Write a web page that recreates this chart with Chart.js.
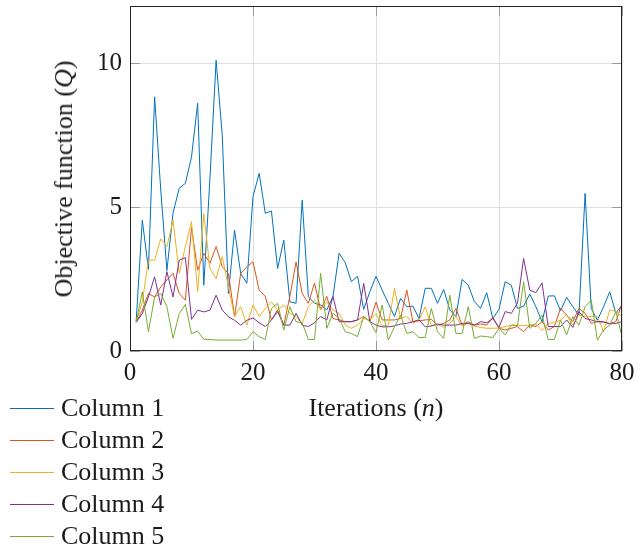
<!DOCTYPE html>
<html>
<head>
<meta charset="utf-8">
<script src="https://cdn.jsdelivr.net/npm/chart.js@4.4.1/dist/chart.umd.min.js"></script>
<style>
    body { margin: 0; background: #fff; }
    #wrap { position: relative; width: 637px; height: 554px; font-family: "Liberation Serif", "DejaVu Serif", serif; color: #1a1a1a; }
    #chart { position: absolute; left: 0; top: 0; }
    .axis-title { position: absolute; font-size: 26px; white-space: nowrap; line-height: 1; }
    #xTitle { left: 376px; top: 408px; transform: translate(-50%, -50%); }
    #yTitle { left: 64px; top: 179px; transform: translate(-50%, -50%) rotate(-90deg); }
    #legend { position: absolute; left: 10px; top: 392px; }
    .legend-row { display: flex; align-items: center; height: 32.1px; font-size: 26px; white-space: nowrap; }
    .legend-line { width: 44px; height: 0; border-top: 1px solid; margin-right: 7px; }
</style>
</head>
<body>
<div id="wrap">
    <canvas id="chart" width="637" height="554"></canvas>
    <div class="axis-title" id="xTitle">Iterations (<i>n</i>)</div>
    <div class="axis-title" id="yTitle">Objective function (<i>Q</i>)</div>
    <div id="legend"></div>
</div>
<script>
// iteration numbers (x)
const iterations = [
    1, 2, 3, 4, 5, 6, 7, 8, 9, 10, 11, 12, 13, 14, 15, 16, 17, 18, 19, 20,
    21, 22, 23, 24, 25, 26, 27, 28, 29, 30, 31, 32, 33, 34, 35, 36, 37, 38, 39, 40,
    41, 42, 43, 44, 45, 46, 47, 48, 49, 50, 51, 52, 53, 54, 55, 56, 57, 58, 59, 60,
    61, 62, 63, 64, 65, 66, 67, 68, 69, 70, 71, 72, 73, 74, 75, 76, 77, 78, 79, 80
];

// objective values per column
const column1 = [
    1.02, 4.55, 2.84, 8.84, 5.6, 2.8, 4.8, 5.66, 5.83, 6.75,
    8.62, 2.29, 6.0, 10.11, 7.5, 2.0, 4.2, 2.7, 2.36, 5.37,
    6.18, 4.79, 4.87, 2.87, 3.86, 1.71, 1.66, 5.25, 1.89, 1.66,
    1.6, 1.43, 1.89, 3.4, 3.07, 2.41, 2.6, 1.45, 2.06, 2.6,
    2.12, 1.66, 1.2, 1.83, 1.54, 1.56, 1.13, 2.18, 2.18, 1.66,
    2.14, 1.43, 1.2, 2.49, 2.29, 1.72, 1.48, 2.03, 1.13, 1.45,
    2.41, 2.29, 1.48, 1.56, 1.98, 1.54, 1.02, 1.91, 1.92, 1.4,
    1.87, 1.54, 1.25, 5.48, 1.48, 1.07, 1.54, 2.06, 1.31, 1.6
];
const column2 = [
    1.0, 1.42, 2.0, 1.88, 2.23, 2.47, 2.7, 2.0, 1.77, 4.3,
    2.81, 3.4, 3.05, 3.63, 2.93, 2.7, 1.19, 2.7, 2.93, 3.1,
    2.12, 1.9, 1.08, 1.43, 0.9, 1.9, 3.1, 2.0, 1.66, 2.36,
    1.43, 1.9, 1.13, 1.08, 1.02, 1.02, 1.08, 1.2, 1.02, 1.7,
    1.08, 1.08, 1.08, 1.13, 2.12, 1.02, 1.05, 1.08, 1.1, 0.9,
    0.96, 1.08, 1.48, 0.9, 1.02, 0.9, 0.94, 0.9, 1.17, 0.79,
    0.73, 0.79, 0.85, 0.67, 0.9, 0.85, 1.02, 0.73, 0.85, 1.48,
    1.25, 1.02, 1.48, 1.31, 0.96, 1.02, 1.0, 0.96, 1.02, 1.66
];
const column3 = [
    1.02, 1.7, 3.16, 3.16, 3.9, 3.63, 4.55, 2.7, 3.63, 4.5,
    2.07, 4.78, 2.87, 2.52, 3.28, 2.23, 1.19, 1.54, 0.9, 1.6,
    1.2, 1.48, 1.71, 1.43, 1.6, 1.31, 1.2, 0.96, 1.54, 1.78,
    1.43, 1.71, 1.43, 1.31, 0.9, 0.79, 0.9, 1.13, 1.08, 1.3,
    0.87, 0.9, 2.18, 1.13, 1.2, 0.96, 1.08, 1.54, 0.87, 0.93,
    0.82, 0.96, 1.2, 0.87, 0.96, 0.87, 0.82, 0.79, 0.79, 0.8,
    0.85, 0.9, 0.9, 0.88, 0.9, 0.94, 0.71, 0.96, 0.98, 1.08,
    1.25, 0.9, 1.25, 1.21, 1.2, 1.2, 0.67, 1.43, 1.37, 1.2
];
const column4 = [
    1.0, 1.3, 1.88, 2.58, 1.6, 2.76, 1.88, 3.16, 3.25, 1.1,
    1.42, 1.36, 1.42, 1.94, 1.42, 1.19, 1.07, 0.9, 1.07, 1.15,
    0.98, 0.85, 1.08, 1.37, 0.9, 0.9, 1.31, 0.9, 0.85, 0.98,
    1.2, 1.08, 1.9, 1.02, 1.02, 1.02, 1.08, 2.35, 1.02, 0.9,
    0.84, 0.84, 0.87, 0.94, 0.96, 1.02, 1.08, 0.84, 0.87, 0.94,
    0.9, 0.9, 0.9, 0.96, 0.96, 0.9, 1.02, 0.98, 1.13, 0.82,
    1.37, 1.31, 1.66, 3.22, 2.12, 2.03, 2.37, 0.85, 0.85, 0.85,
    1.08, 0.82, 1.37, 1.13, 1.08, 1.02, 1.02, 0.94, 0.96, 1.02
];
const column5 = [
    1.0, 2.06, 0.67, 1.88, 2.0, 1.54, 0.44, 1.3, 1.62, 0.6,
    0.69, 0.41, 0.4, 0.38, 0.38, 0.38, 0.38, 0.38, 0.4, 0.67,
    0.5, 0.4, 1.48, 1.66, 0.73, 1.54, 1.02, 0.98, 0.4, 0.4,
    2.7, 0.79, 1.31, 1.13, 0.67, 0.61, 0.5, 1.2, 1.02, 0.64,
    1.6, 0.38, 0.84, 1.25, 0.61, 0.67, 0.47, 0.47, 1.48, 0.67,
    0.44, 1.94, 0.61, 0.61, 1.54, 0.44, 0.52, 0.5, 0.47, 0.79,
    0.56, 0.9, 0.88, 2.41, 0.79, 0.96, 1.25, 0.4, 0.4, 1.08,
    0.56, 1.2, 0.9, 1.54, 1.77, 0.38, 0.73, 0.9, 1.37, 0.5
];

const seriesNames = ['Column 1', 'Column 2', 'Column 3', 'Column 4', 'Column 5'];
const seriesColors = ['#0072BD', '#D95319', '#EDB120', '#7E2F8E', '#77AC30'];
const xTicks = [0, 20, 40, 60, 80];
const yTicks = [0, 5, 10];

const allSeries = [column1, column2, column3, column4, column5];

// box around the plot + short inner tick marks (matlab look)
const framePlugin = {
    id: 'frame',
    afterDraw(chart) {
        const { ctx, chartArea: a, scales } = chart;
        ctx.save();
        ctx.lineWidth = 1;
        ctx.strokeStyle = '#9a9a9a';
        ctx.beginPath();
        const len = 10;
        yTicks.forEach(v => {
            const py = Math.round(scales.y.getPixelForValue(v)) + 0.5;
            ctx.moveTo(a.left, py); ctx.lineTo(a.left + len, py);
            ctx.moveTo(a.right, py); ctx.lineTo(a.right - len, py);
        });
        xTicks.forEach(v => {
            const px = Math.round(scales.x.getPixelForValue(v)) + 0.5;
            ctx.moveTo(px, a.bottom); ctx.lineTo(px, a.bottom - len);
            ctx.moveTo(px, a.top); ctx.lineTo(px, a.top + len);
        });
        ctx.stroke();
        ctx.strokeStyle = '#262626';
        ctx.strokeRect(Math.round(a.left) + 0.5, Math.round(a.top) + 0.5,
            Math.round(a.right - a.left) - 1, Math.round(a.bottom - a.top) - 1);
        ctx.restore();
    }
};

const tickFont = { family: 'Liberation Serif', size: 25 };

new Chart(document.getElementById('chart'), {
    type: 'line',
    data: {
        datasets: allSeries.map((vals, i) => ({
            label: seriesNames[i],
            data: vals.map((v, k) => ({ x: iterations[k], y: v })),
            borderColor: seriesColors[i],
            borderWidth: 1,
            pointRadius: 0,
            tension: 0,
            order: allSeries.length - i
        }))
    },
    options: {
        responsive: false,
        animation: false,
        layout: { padding: { top: 6, right: 15, left: 0, bottom: 0 } },
        plugins: { legend: { display: false }, tooltip: { enabled: false } },
        scales: {
            x: {
                type: 'linear',
                min: 0,
                max: 80,
                afterBuildTicks: s => { s.ticks = xTicks.map(v => ({ value: v })); },
                afterFit: s => { s.height = 203; s.paddingLeft = 0; s.paddingRight = 0; },
                grid: { color: '#dfdfdf', drawTicks: false },
                border: { display: false },
                ticks: { font: tickFont, color: '#1a1a1a', padding: 7, maxRotation: 0 }
            },
            y: {
                min: 0,
                max: 12,
                afterBuildTicks: s => { s.ticks = yTicks.map(v => ({ value: v })); },
                afterFit: s => { s.width = 130; s.paddingTop = 0; s.paddingBottom = 0; },
                grid: { color: '#dfdfdf', drawTicks: false },
                border: { display: false },
                ticks: { font: tickFont, color: '#1a1a1a', padding: 8 }
            }
        }
    },
    plugins: [framePlugin]
});

// legend (bottom left, outside the axes)
const legendBox = document.getElementById('legend');
seriesNames.forEach((name, i) => {
    const row = document.createElement('div');
    row.className = 'legend-row';
    row.innerHTML = `<span class="legend-line" style="border-color:${seriesColors[i]}"></span>${name}`;
    legendBox.appendChild(row);
});
</script>
</body>
</html>
